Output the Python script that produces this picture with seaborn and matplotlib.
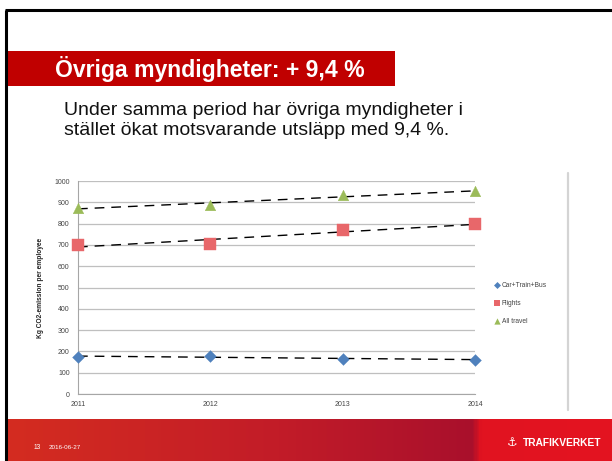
import numpy as np
import pandas as pd
import matplotlib
matplotlib.use("Agg")
import matplotlib.pyplot as plt
import seaborn as sns
from matplotlib.patches import Rectangle
from matplotlib.colors import LinearSegmentedColormap

# ---- data ----
years = [2011, 2012, 2013, 2014]
car_train_bus = [175, 178, 165, 161]
flights = [700, 706, 770, 797]
all_travel = [875, 885, 933, 953]
series_names = ["Car+Train+Bus", "Flights", "All travel"]
y_ticks = [0, 100, 200, 300, 400, 500, 600, 700, 800, 900, 1000]

title = "Övriga myndigheter: + 9,4 %"
subtitle = "Under samma period har övriga myndigheter i\nstället ökat motsvarande utsläpp med 9,4 %."
y_label = "Kg CO2-emission per employee"
footer_page = "13"
footer_date = "2016-06-27"
brand = "TRAFIKVERKET"

sns.set_theme(style="white")
plt.rcParams['font.family'] = ['Liberation Sans', 'DejaVu Sans']

W, H = 612, 461
fig = plt.figure(figsize=(W / 100, H / 100), dpi=100)

# background canvas in pixel coords
bg = fig.add_axes([0, 0, 1, 1])
bg.set_xlim(0, W)
bg.set_ylim(H, 0)
bg.axis("off")

# slide frame
bg.plot([5, W], [10, 10], color="black", lw=2.2, solid_capstyle="butt")
bg.plot([6, 6], [10, H], color="black", lw=2.2, solid_capstyle="butt")

# title band
bg.add_patch(Rectangle((6, 51), 389, 35, color="#C00000", lw=0))
bg.text(55, 69, title, color="white", fontsize=16.6, fontweight="bold",
        va="center", ha="left")

# subtitle
bg.text(64, 102, subtitle, color="#111111", fontsize=14.0, va="top", ha="left",
        linespacing=1.2)

# footer gradient
cmap = LinearSegmentedColormap.from_list(
    "foot", [(0, "#D42C20"), (0.45, "#C21C28"), (0.77, "#A9102C"), (0.785, "#E11320"), (1, "#E41420")])
grad = np.linspace(0, 1, 400).reshape(1, -1)
bg.imshow(grad, cmap=cmap, extent=(7, W, H, 419), aspect="auto", zorder=1)
bg.text(34, 447, footer_page, color="white", fontsize=4.8, va="center", ha="left", zorder=3)
bg.text(49, 447, footer_date, color="white", fontsize=4.5, va="center", ha="left", zorder=3)
bg.text(523, 443, brand, color="white", fontsize=7.4, fontweight="bold",
        va="center", ha="left", zorder=3)
bg.text(512, 443, "⚓", color="white", fontsize=8.5, va="center", ha="center", zorder=3)

# right vertical divider of chart object
bg.plot([568, 568], [173, 410], color="#D4D4D4", lw=1.6)

# ---- chart ----
ax = fig.add_axes([78 / W, (H - 394) / H, 397 / W, 213 / H])
df = pd.DataFrame({
    "year": years * 3,
    "value": car_train_bus + flights + all_travel,
    "series": [series_names[0]] * 4 + [series_names[1]] * 4 + [series_names[2]] * 4,
})
colors = {"Car+Train+Bus": "#4F81BD", "Flights": "#E8676A", "All travel": "#9BBB59"}
markers = {"Car+Train+Bus": "D", "Flights": "s", "All travel": "^"}
sizes = {"Car+Train+Bus": 36, "Flights": 64, "All travel": 58}

for name in series_names:
    sub = df[df.series == name]
    sns.regplot(data=sub, x="year", y="value", ax=ax, scatter=False, ci=None,
                truncate=True, line_kws=dict(color="black", lw=1.0, ls=(0, (7, 5)), zorder=2))
for name in series_names:
    sub = df[df.series == name]
    sns.scatterplot(data=sub, x="year", y="value", ax=ax, marker=markers[name],
                    color=colors[name], s=sizes[name], edgecolor=colors[name],
                    linewidth=0.3, zorder=4, clip_on=False, legend=False)

ax.set_xlim(2011, 2014)
ax.set_ylim(0, 1000)
ax.set_yticks(y_ticks)
ax.set_xticks(years)
ax.set_xticklabels([str(y) for y in years])
ax.grid(axis="y", color="#BFBFBF", lw=0.9)
ax.grid(axis="x", visible=False)
for s in ["top", "right"]:
    ax.spines[s].set_visible(False)
ax.spines["left"].set_color("#A6A6A6")
ax.spines["bottom"].set_color("#A6A6A6")
ax.spines["left"].set_linewidth(0.8)
ax.spines["bottom"].set_linewidth(0.8)
ax.tick_params(axis="both", labelsize=5, colors="#A6A6A6",
               length=3, width=0.6, direction="out")
ax.tick_params(axis="x", pad=2)
ax.tick_params(axis="y", pad=3)
for lbl in ax.get_yticklabels() + ax.get_xticklabels():
    lbl.set_color("#444444")
ax.set_xlabel("")
ax.set_ylabel(y_label, fontsize=4.8, color="#222222", fontweight="bold", labelpad=7)

# legend
leg_y = [285, 303, 321]
for name, ly in zip(series_names, leg_y):
    bg.scatter([497], [ly], marker=markers[name], color=colors[name],
               s=sizes[name] * 0.35, zorder=5, linewidths=0)
    bg.text(502, ly, name, fontsize=4.8, color="#444444", va="center", ha="left")

fig.savefig("out.png", dpi=100)
